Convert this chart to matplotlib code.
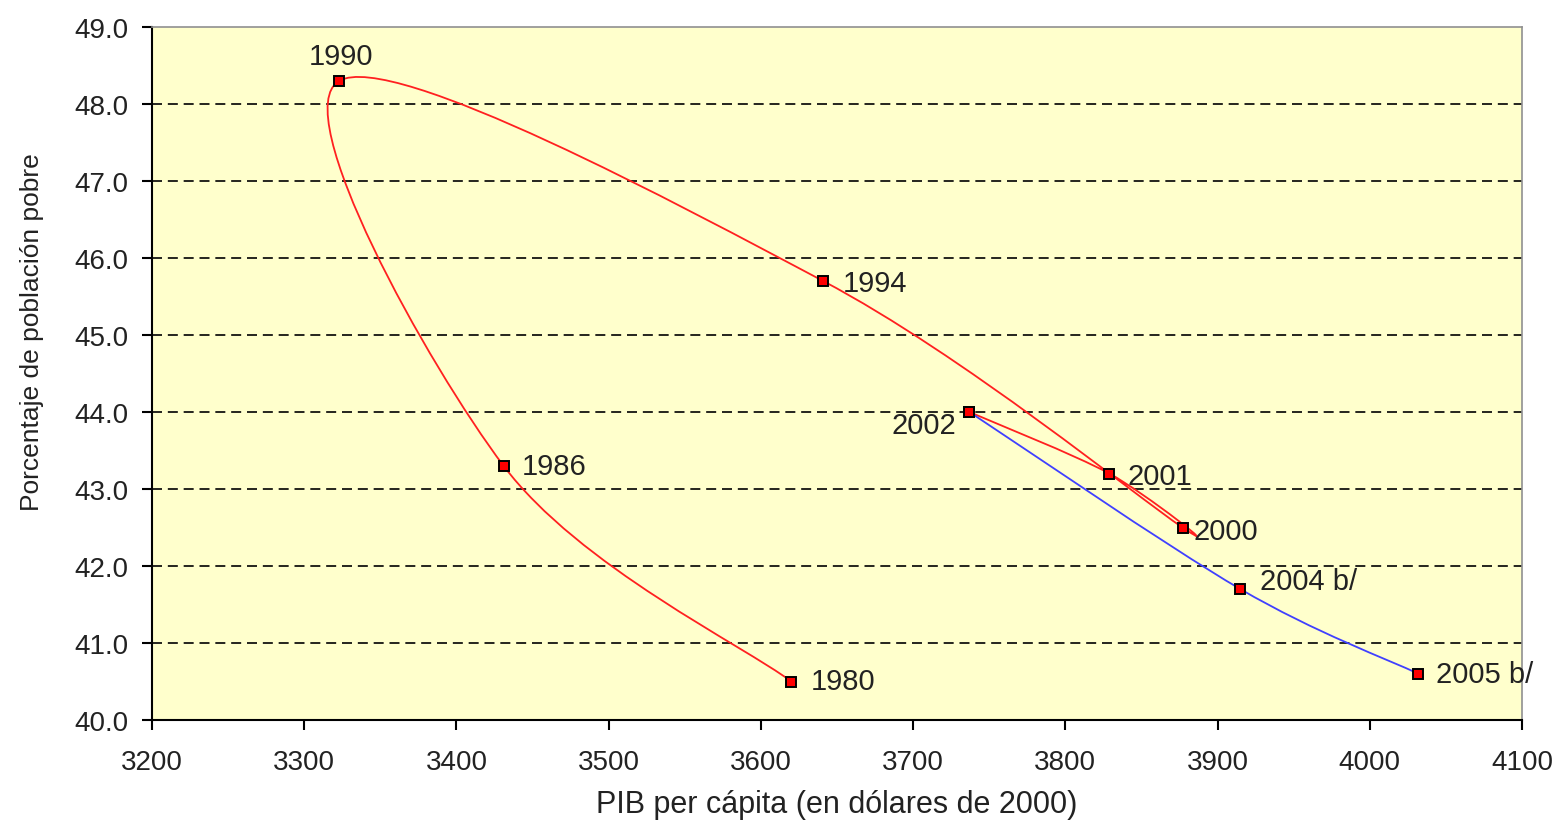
import numpy as np
import matplotlib
matplotlib.use("Agg")
import matplotlib.pyplot as plt
from matplotlib.path import Path
from matplotlib.patches import PathPatch

plt.rcParams['font.family'] = ['Liberation Sans', 'DejaVu Sans']

# --- data ---
years_a = ["1980", "1986", "1990", "1994", "2000", "2001", "2002"]
gdp_a = [3620, 3431, 3323, 3641, 3877, 3829, 3737]
pov_a = [40.5, 43.3, 48.3, 45.7, 42.5, 43.2, 44.0]

years_b = ["2002", "2004 b/", "2005 b/"]
gdp_b = [3737, 3915, 4032]
pov_b = [44.0, 41.7, 40.6]

# label offsets (pixels) and alignment per year
label_pos = {
    "1980": (19, 0, "left", "center"),
    "1986": (18, 0, "left", "center"),
    "1990": (2, 11, "center", "bottom"),
    "1994": (19, -2, "left", "center"),
    "2000": (11, -4, "left", "center"),
    "2001": (18, -2, "left", "center"),
    "2002": (-13, -13, "right", "center"),
    "2004 b/": (20, 8, "left", "center"),
    "2005 b/": (18, 0, "left", "center"),
}


def smooth_path(xs, ys):
    """Bezier path through points, Excel-like smoothing (Catmull-Rom)."""
    pts = np.column_stack([xs, ys]).astype(float)
    ext = np.vstack([pts[0], pts, pts[-1]])
    verts = [tuple(pts[0])]
    codes = [Path.MOVETO]
    for i in range(1, len(ext) - 2):
        p0, p1, p2, p3 = ext[i - 1], ext[i], ext[i + 1], ext[i + 2]
        c1 = p1 + (p2 - p0) / 6.0
        c2 = p2 - (p3 - p1) / 6.0
        verts += [tuple(c1), tuple(c2), tuple(p2)]
        codes += [Path.CURVE4] * 3
    return Path(verts, codes)


fig = plt.figure(figsize=(15.61, 8.28), dpi=100)
ax = fig.add_axes([152 / 1561, 1 - 721 / 828, (1522 - 152) / 1561, (721 - 28) / 828])
ax.set_facecolor("#FFFFCC")

ax.set_xlim(3200, 4100)
ax.set_ylim(40, 49)
ax.set_xticks(np.arange(3200, 4101, 100))
ax.set_yticks(np.arange(40, 49.01, 1))
ax.yaxis.set_major_formatter(matplotlib.ticker.FormatStrFormatter("%.1f"))

for y in np.arange(41, 49, 1):
    ax.axhline(y, color="black", lw=1.2, ls=(0, (6, 3.5)), zorder=1)

ax.add_patch(PathPatch(smooth_path(gdp_a, pov_a), fill=False,
                       edgecolor="#FF2020", lw=1.3, zorder=2))
ax.add_patch(PathPatch(smooth_path(gdp_b, pov_b), fill=False,
                       edgecolor="#4040FF", lw=1.3, zorder=2))

ax.plot(gdp_a, pov_a, ls="none", marker="s", ms=6.5, mfc="red", mec="black", mew=1.4, zorder=3)
ax.plot(gdp_b, pov_b, ls="none", marker="s", ms=6.5, mfc="red", mec="black", mew=1.4, zorder=3)

for yr, x, y in list(zip(years_a, gdp_a, pov_a)) + list(zip(years_b[1:], gdp_b[1:], pov_b[1:])):
    dx, dy, ha, va = label_pos[yr]
    ax.annotate(yr, (x, y), xytext=(dx, dy), textcoords="offset pixels",
                ha=ha, va=va, fontsize=21, color="#222222", zorder=4)

for s in ["left", "bottom"]:
    ax.spines[s].set_color("black")
    ax.spines[s].set_linewidth(1.5)
for s in ["top", "right"]:
    ax.spines[s].set_color("#909090")
    ax.spines[s].set_linewidth(1.2)

ax.tick_params(axis="both", direction="out", length=7, width=1.5, labelsize=20, colors="black")
ax.tick_params(axis="x", pad=14)
ax.tick_params(axis="y", pad=10)
for lab in ax.get_xticklabels() + ax.get_yticklabels():
    lab.set_color("#222222")

ax.set_xlabel("PIB per cápita (en dólares de 2000)", fontsize=22, color="#222222", labelpad=10)
ax.set_ylabel("Porcentaje de población pobre", fontsize=19, color="#222222")
ax.yaxis.set_label_coords(-0.079, 0.561)

fig.savefig("out.png", dpi=100)
